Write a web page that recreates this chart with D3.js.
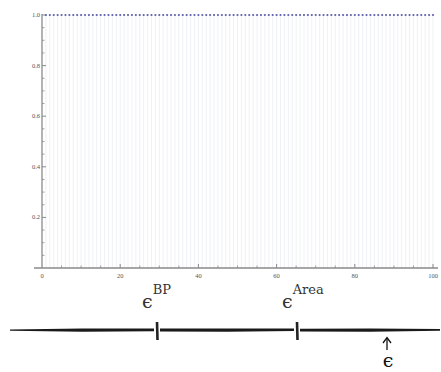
<!DOCTYPE html>
<html>
<head>
<meta charset="utf-8">
<script src="https://cdn.jsdelivr.net/npm/d3@7"></script>
<style>
  html, body { margin: 0; padding: 0; background: #fff; }
  svg { display: block; }
</style>
</head>
<body>
<svg id="chart" width="441" height="372"></svg>
<script>
// Sample indices and their values (stem plot)
const indices = [1,2,3,4,5,6,7,8,9,10,11,12,13,14,15,16,17,18,19,20,
  21,22,23,24,25,26,27,28,29,30,31,32,33,34,35,36,37,38,39,40,
  41,42,43,44,45,46,47,48,49,50,51,52,53,54,55,56,57,58,59,60,
  61,62,63,64,65,66,67,68,69,70,71,72,73,74,75,76,77,78,79,80,
  81,82,83,84,85,86,87,88,89,90,91,92,93,94,95,96,97,98,99,100];
const values = [1,1,1,1,1,1,1,1,1,1,1,1,1,1,1,1,1,1,1,1,
  1,1,1,1,1,1,1,1,1,1,1,1,1,1,1,1,1,1,1,1,
  1,1,1,1,1,1,1,1,1,1,1,1,1,1,1,1,1,1,1,1,
  1,1,1,1,1,1,1,1,1,1,1,1,1,1,1,1,1,1,1,1,
  1,1,1,1,1,1,1,1,1,1,1,1,1,1,1,1,1,1,1,1];
const xTickValues = [0, 20, 40, 60, 80, 100];
const yTickValues = [0.2, 0.4, 0.6, 0.8, 1.0];
const xMinorTicks = [5,10,15,25,30,35,45,50,55,65,70,75,85,90,95];
const yMinorTicks = [0.05,0.1,0.15,0.25,0.3,0.35,0.45,0.5,0.55,0.65,0.7,0.75,0.85,0.9,0.95];

// Annotated number line below the plot
const lineMarks = [
  { name: "BP", pos: 157 },
  { name: "Area", pos: 297 }
];

const svg = d3.select("#chart");
const x = d3.scaleLinear().domain([0, 100]).range([42, 433]);
const y = d3.scaleLinear().domain([0, 1]).range([268, 15]);

const axisColor = "#8a8a8a";
const labelColor = "#555";
const plot = svg.append("g");

// Stems from the axis to each value
plot.selectAll("line.stem").data(indices).enter().append("line")
  .attr("class", "stem")
  .attr("x1", d => x(d)).attr("x2", d => x(d))
  .attr("y1", y(0)).attr("y2", (d, i) => y(values[i]))
  .attr("stroke", "rgb(120,125,175)").attr("stroke-opacity", 0.11)
  .attr("stroke-width", 1);

// Axes
plot.append("line").attr("x1", 34).attr("x2", 438)
  .attr("y1", y(0)).attr("y2", y(0))
  .attr("stroke", axisColor).attr("stroke-width", 1.3);
plot.append("line").attr("x1", x(0)).attr("x2", x(0))
  .attr("y1", y(0)).attr("y2", 14)
  .attr("stroke", axisColor).attr("stroke-width", 1.3);

// x ticks (pointing up into the plot)
plot.selectAll("line.xmaj").data(xTickValues.filter(d => d > 0)).enter().append("line")
  .attr("x1", d => x(d)).attr("x2", d => x(d))
  .attr("y1", y(0)).attr("y2", y(0) - 4)
  .attr("stroke", axisColor).attr("stroke-width", 1);
plot.selectAll("line.xmin").data(xMinorTicks).enter().append("line")
  .attr("x1", d => x(d)).attr("x2", d => x(d))
  .attr("y1", y(0)).attr("y2", y(0) - 2.5)
  .attr("stroke", axisColor).attr("stroke-width", 0.8);
plot.selectAll("text.xl").data(xTickValues).enter().append("text")
  .attr("x", d => x(d)).attr("y", y(0) + 10)
  .attr("text-anchor", "middle")
  .attr("font-family", "'Liberation Serif', 'DejaVu Serif', serif")
  .attr("font-size", 6.5).attr("fill", labelColor)
  .text(d => d);

// y ticks (pointing right into the plot)
plot.selectAll("line.ymaj").data(yTickValues).enter().append("line")
  .attr("x1", x(0)).attr("x2", x(0) + 4)
  .attr("y1", d => y(d)).attr("y2", d => y(d))
  .attr("stroke", axisColor).attr("stroke-width", 1);
plot.selectAll("line.ymin").data(yMinorTicks).enter().append("line")
  .attr("x1", x(0)).attr("x2", x(0) + 2.5)
  .attr("y1", d => y(d)).attr("y2", d => y(d))
  .attr("stroke", axisColor).attr("stroke-width", 0.8);
plot.selectAll("text.yl").data(yTickValues).enter().append("text")
  .attr("x", x(0) - 2).attr("y", d => y(d) + 2)
  .attr("text-anchor", "end")
  .attr("font-family", "'Liberation Serif', 'DejaVu Serif', serif")
  .attr("font-size", 6.5).attr("fill", labelColor)
  .text(d => d3.format(".1f")(d));

// Points
plot.selectAll("circle.pt").data(indices).enter().append("circle")
  .attr("cx", d => x(d)).attr("cy", (d, i) => y(values[i]))
  .attr("r", 1.1)
  .attr("fill", "rgb(95,95,175)");

// Hand-drawn number line
const sketch = svg.append("g");
const lineY = 330;
const segs = [
  [10, 154, 1.0, 2.6],
  [160, 294, 2.8, 2.2],
  [300, 440, 2.4, 1.4]
];
segs.forEach(([a, b, wa, wb]) => {
  const mid = (a + b) / 2;
  const pts = [[a, lineY - wa / 2], [mid, lineY - 1.6], [b, lineY - wb / 2 - 0.3],
               [b, lineY + wb / 2], [mid, lineY + 1.8], [a, lineY + wa / 2 + 0.2]];
  sketch.append("path")
    .attr("d", d3.line()(pts) + "Z")
    .attr("fill", "#1a1a1a");
});
lineMarks.forEach(m => {
  sketch.append("line")
    .attr("x1", m.pos).attr("x2", m.pos + 0.5)
    .attr("y1", 322).attr("y2", 340)
    .attr("stroke", "#222").attr("stroke-width", 2.6);
  const t = sketch.append("text")
    .attr("x", m.pos - 15).attr("y", 308)
    .attr("font-family", "'DejaVu Serif', 'Liberation Serif', serif")
    .attr("fill", "#333");
  t.append("tspan").attr("font-size", 19).text("ϵ");
  t.append("tspan").attr("font-size", 13).attr("dy", -14).attr("dx", 0).text(m.name);
});

// Arrow pointing at the current value
sketch.append("line").attr("x1", 387).attr("x2", 387)
  .attr("y1", 338).attr("y2", 350)
  .attr("stroke", "#111").attr("stroke-width", 1.3);
sketch.append("path")
  .attr("d", "M383,343 L387,337.5 L391,343")
  .attr("fill", "none").attr("stroke", "#111").attr("stroke-width", 1.3);
sketch.append("text")
  .attr("x", 388).attr("y", 367).attr("text-anchor", "middle")
  .attr("font-family", "'DejaVu Serif', 'Liberation Serif', serif")
  .attr("font-size", 19).attr("fill", "#111")
  .text("ϵ");
</script>
</body>
</html>
